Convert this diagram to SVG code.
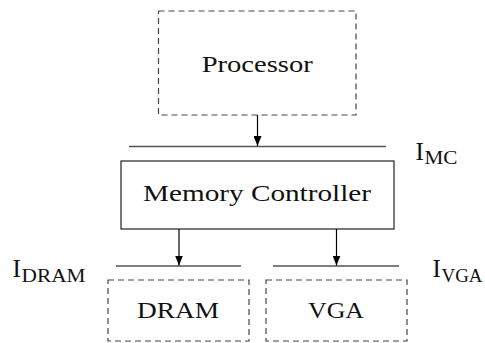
<svg xmlns="http://www.w3.org/2000/svg" width="485" height="343" viewBox="0 0 485 343">
<style>
.dash{fill:none;stroke:#444;stroke-width:1.2;stroke-dasharray:6,4}
.solid{fill:#fff;stroke:#222;stroke-width:1.2}
.bus{stroke:#555;stroke-width:1.4}
.conn{stroke:#000;stroke-width:1.2;marker-end:url(#ah)}
text{font-family:"Liberation Serif","Times New Roman",serif;fill:#111}
.lbl{font-size:24px;text-anchor:middle}
.cur{font-size:25px}
.sub{font-size:18px}
</style>
<defs>
<marker id="ah" markerWidth="10" markerHeight="8" refX="10" refY="4" orient="auto" markerUnits="userSpaceOnUse" viewBox="0 0 10 8">
<path d="M0,0 L10,4 L0,8 Z" fill="#000"/>
</marker>
</defs>
<g id="processor">
<rect class="dash" x="158.5" y="11" width="197.5" height="104"/>
<text class="lbl" x="257.2" y="72" textLength="111" lengthAdjust="spacingAndGlyphs">Processor</text>
</g>
<g id="memory-controller">
<rect class="solid" x="121" y="161" width="273" height="68"/>
<text class="lbl" x="257" y="201" textLength="228" lengthAdjust="spacingAndGlyphs">Memory Controller</text>
</g>
<g id="dram">
<rect class="dash" x="108" y="280" width="141" height="61"/>
<text class="lbl" x="178" y="318" textLength="82" lengthAdjust="spacingAndGlyphs">DRAM</text>
</g>
<g id="vga">
<rect class="dash" x="266" y="280" width="141" height="61"/>
<text class="lbl" x="336" y="318" textLength="56" lengthAdjust="spacingAndGlyphs">VGA</text>
</g>
<g id="interfaces">
<line class="bus" x1="129" y1="146.5" x2="386" y2="146.5"/>
<line class="bus" x1="116" y1="266" x2="241" y2="266"/>
<line class="bus" x1="273" y1="266" x2="399" y2="266"/>
<text x="415.5" y="160"><tspan class="cur">I</tspan><tspan class="sub" x="424.5" dy="4.3" textLength="33" lengthAdjust="spacingAndGlyphs">MC</tspan></text>
<text x="12.5" y="277.3"><tspan class="cur">I</tspan><tspan class="sub" x="21.5" dy="5" textLength="64" lengthAdjust="spacingAndGlyphs">DRAM</tspan></text>
<text x="432.5" y="277.3"><tspan class="cur">I</tspan><tspan class="sub" x="441.5" dy="5" textLength="41" lengthAdjust="spacingAndGlyphs">VGA</tspan></text>
</g>
<g id="connectors">
<line class="conn" x1="257.5" y1="115" x2="257.5" y2="146"/>
<line class="conn" x1="179" y1="229" x2="179" y2="265.5"/>
<line class="conn" x1="336.5" y1="229" x2="336.5" y2="265.5"/>
</g>
</svg>
